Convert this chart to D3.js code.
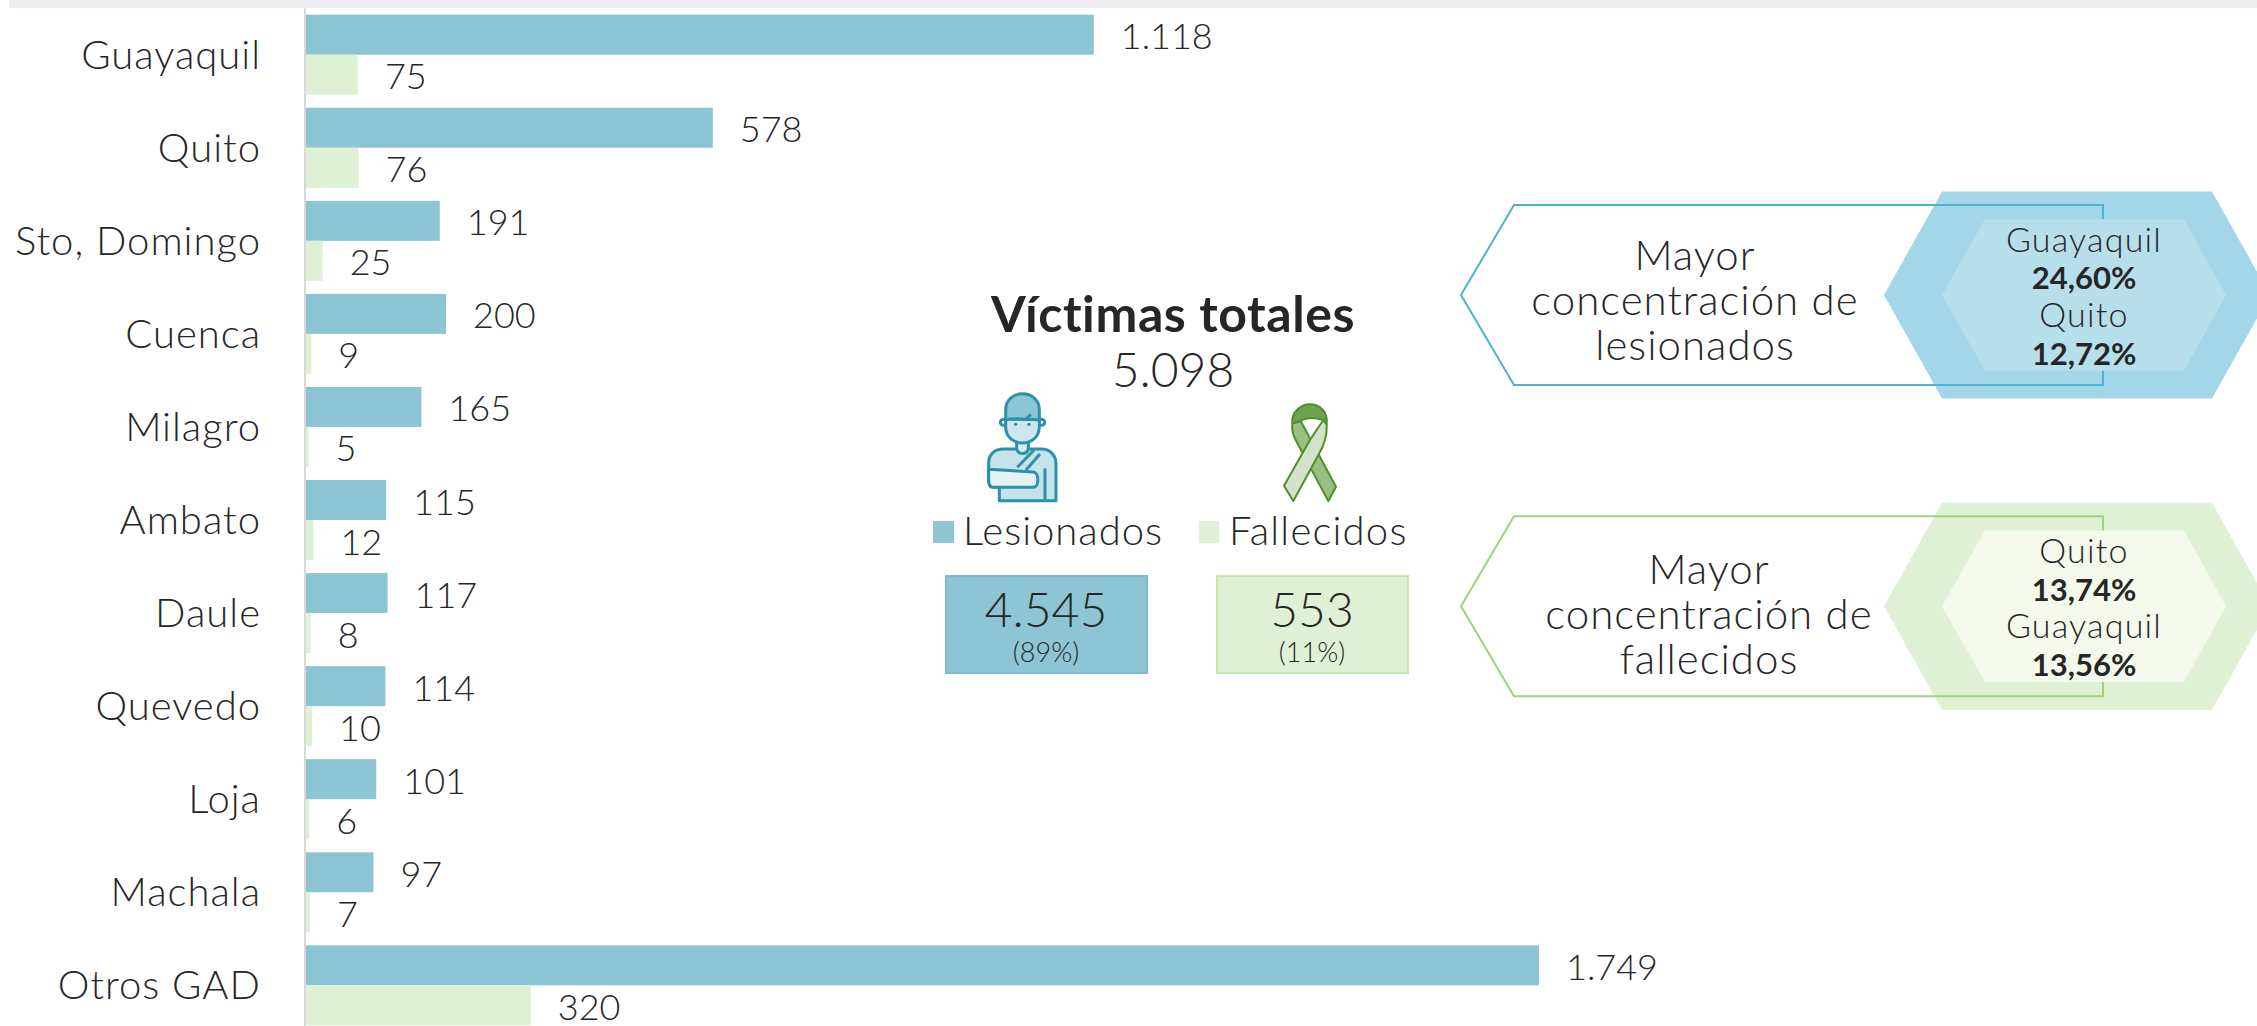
<!doctype html>
<html>
<head>
	<meta charset="utf-8">
	<title>Victimas por GAD</title>
	<script src="https://d3js.org/d3.v7.min.js"></script>
	<style>
		html, body { margin: 0; padding: 0; background: #fff; }
		svg { display: block; }
		text { font-family: Lato, sans-serif; font-weight: 300; fill: #262626; }
	</style>
</head>
<body>
<script>

const categories = ["Guayaquil", "Quito", "Sto, Domingo", "Cuenca", "Milagro", "Ambato", "Daule", "Quevedo", "Loja", "Machala", "Otros GAD"];
const lesionados = [1118, 578, 191, 200, 165, 115, 117, 114, 101, 97, 1749];
const fallecidos = [75, 76, 25, 9, 5, 12, 8, 10, 6, 7, 320];
const seriesNames = ["Lesionados", "Fallecidos"];
const totalVictimas = 5098;
const totalLesionados = 4545;
const totalFallecidos = 553;
const pctLesionados = "(89%)";
const pctFallecidos = "(11%)";
const topLesionados = ["Guayaquil", "24,60%", "Quito", "12,72%"];
const topFallecidos = ["Quito", "13,74%", "Guayaquil", "13,56%"];

const w = 2257;
const h = 1026;
const blue = "#8dc5d4";
const green = "#dff1d5";

const svg = d3.select("body").append("svg")
	.attr("width", w)
	.attr("height", h);

// thousands with a dot
const fmt = d3.formatLocale({decimal: ",", thousands: ".", grouping: [3], currency: ["$", ""]}).format(",d");

svg.append("rect").attr("x", 9).attr("y", 0).attr("width", w - 9).attr("height", 8).attr("fill", "#eeeef3");

const x = d3.scaleLinear().domain([0, 1749]).range([305, 1539]);
const y = d3.scaleBand().domain(categories).range([8.19, 1031.85]).paddingInner(0.14).paddingOuter(0.07);
const ySub = d3.scaleBand().domain(seriesNames).range([0, y.bandwidth()]);

const rows = categories.map(function(c, i) {
	return {cat: c, vals: [
		{s: "Lesionados", v: lesionados[i]},
		{s: "Fallecidos", v: fallecidos[i]}
	]};
});

const row = svg.selectAll("g.row")
	.data(rows)
	.enter().append("g")
	.attr("class", "row")
	.attr("transform", function(d) { return "translate(0," + y(d.cat) + ")"; });

const item = row.selectAll("g")
	.data(function(d) { return d.vals; })
	.enter().append("g");

item.append("rect")
	.attr("x", x(0))
	.attr("y", function(d) { return ySub(d.s); })
	.attr("width", function(d) { return x(d.v) - x(0); })
	.attr("height", ySub.bandwidth())
	.attr("fill", function(d) { return d.s == "Lesionados" ? blue : green; });

item.append("text")
	.attr("x", function(d) { return x(d.v) + 27; })
	.attr("y", function(d) { return ySub(d.s) + 34.5; })
	.attr("font-size", 36)
	.text(function(d) { return fmt(d.v); });

const axis = svg.append("g")
	.attr("transform", "translate(305,0)")
	.call(d3.axisLeft(y).tickSize(0).tickPadding(44));
axis.select(".domain").remove();
axis.selectAll("text")
	.attr("font-size", 40)
	.attr("dy", 14)
	.style("letter-spacing", "1px")
	.style("font-family", "Lato")
	.style("font-weight", 300);
svg.append("line").attr("x1", 305).attr("x2", 305).attr("y1", 8).attr("y2", h)
	.attr("stroke", "#d9d9d9").attr("stroke-width", 2);

// centre block
function label(sel, txt, px, py, size, bold, anchor, spacing) {
	return sel.append("text")
		.attr("x", px).attr("y", py)
		.attr("font-size", size)
		.attr("text-anchor", anchor || "middle")
		.style("font-weight", bold ? 700 : 300)
		.style("letter-spacing", (spacing || 0) + "px")
		.text(txt);
}
label(svg, "Víctimas totales", 1173, 332, 50, true, "middle", 0.6);
label(svg, fmt(totalVictimas), 1173, 387, 48);

svg.append("rect").attr("x", 933).attr("y", 521).attr("width", 21).attr("height", 22).attr("fill", blue);
svg.append("rect").attr("x", 1199).attr("y", 521).attr("width", 20).attr("height", 22).attr("fill", green);
label(svg, seriesNames[0], 963, 545, 40, false, "start", 1);
label(svg, seriesNames[1], 1229, 545, 40, false, "start", 1.2);

svg.append("rect").attr("x", 946).attr("y", 576).attr("width", 201).attr("height", 97)
	.attr("fill", blue).attr("stroke", "#7ebacb").attr("stroke-width", 2);
svg.append("rect").attr("x", 1217).attr("y", 576).attr("width", 191).attr("height", 97)
	.attr("fill", green).attr("stroke", "#c4e5ac").attr("stroke-width", 2);
label(svg, fmt(totalLesionados), 1046, 627, 48);
label(svg, pctLesionados, 1046, 662, 27);
label(svg, fmt(totalFallecidos), 1312, 627, 48);
label(svg, pctFallecidos, 1312, 662, 27);

// callouts at the right
function callout(cy, lineColor, outerColor, innerColor, lines, textX, textDy, vals) {
	const g = svg.append("g");
	g.append("polygon")
		.attr("points", [[1884, cy], [1942, cy - 103.6], [2212, cy - 103.6], [2270, cy], [2212, cy + 103.6], [1942, cy + 103.6]].join(" "))
		.attr("fill", outerColor);
	g.append("polygon")
		.attr("points", [[1461, cy], [1514, cy - 90], [2103, cy - 90], [2103, cy + 90], [1514, cy + 90]].join(" "))
		.attr("fill", "none").attr("stroke", lineColor).attr("stroke-width", 2);
	g.append("polygon")
		.attr("points", [[1942, cy], [1985, cy - 75.8], [2184, cy - 75.8], [2226, cy], [2184, cy + 75.8], [1985, cy + 75.8]].join(" "))
		.attr("fill", innerColor);
	lines.forEach(function(t, i) { label(g, t, textX, cy + textDy + i * 45, 42, false, "middle", 1); });
	vals.forEach(function(t, i) {
		const bold = i % 2 == 1;
		label(g, t, 2084, cy - 43.5 + i * 37.8, bold ? 31 : 34, bold, "middle", bold ? 0 : 1.2);
	});
}
callout(295, "#4eb3d3", "#a3d6e6", "#b6dfeb", ["Mayor", "concentración de", "lesionados"], 1695, -25, topLesionados);
callout(606.3, "#9bd47c", "#dff1d5", "#f4f9ec", ["Mayor", "concentración de", "fallecidos"], 1709, -22, topFallecidos);

// icons, drawn by hand at 3x and scaled down
const person = svg.append("g")
	.attr("transform", "translate(960,380) scale(0.3333)")
	.attr("stroke", "#2a92a9").attr("stroke-width", 9).attr("stroke-linejoin", "round").attr("fill", "none");
person.append("circle").attr("cx", 130).attr("cy", 127).attr("r", 9);
person.append("circle").attr("cx", 245).attr("cy", 127).attr("r", 9);
person.append("path").attr("d", "M118,362 L118,322 L100,322 C90,322 86,312 86,300 L86,250 C86,222 105,207 130,207 L245,207 C272,207 288,228 288,250 L288,362 Z").attr("fill", "#c6e2ea");
person.append("path").attr("d", "M170,185 L170,207 C175,225 200,225 205,207 L205,185").attr("fill", "#dcedf3");
person.append("path").attr("d", "M137,118 L137,140 C137,205 238,205 238,140 L238,118 Z").attr("fill", "#cfe6ee");
person.append("path").attr("d", "M137,120 L137,90 C137,25 238,25 238,90 L238,120 C225,116 205,120 196,118 C180,116 150,116 137,120 Z").attr("fill", blue);
person.append("path").attr("d", "M200,115 L213,103");
person.append("path").attr("d", "M172,262 L222,210 M198,270 L240,222 M255,265 L255,362");
person.append("path").attr("d", "M86,268 L220,276 C238,278 238,322 220,322 L100,322 C90,322 86,312 86,300 Z").attr("fill", "#e6f2f5");
person.append("circle").attr("cx", 167).attr("cy", 133).attr("r", 5).attr("fill", "#2a92a9").attr("stroke", "none");
person.append("circle").attr("cx", 207).attr("cy", 133).attr("r", 5).attr("fill", "#2a92a9").attr("stroke", "none");

const ribbon = svg.append("g")
	.attr("transform", "translate(1260,395) scale(0.3333)")
	.attr("stroke", "#4f8f28").attr("stroke-width", 6).attr("stroke-linejoin", "round");
ribbon.append("path").attr("d", "M97,85 L122,78 L228,275 L205,318 L107,135 C98,118 95,100 97,85 Z").attr("fill", "#9abf83");
ribbon.append("path").attr("d", "M97,85 C92,50 125,28 150,28 C180,28 205,50 200,90 L190,75 C170,68 140,65 122,78 Z").attr("fill", "#6fa14f");
ribbon.append("path").attr("d", "M190,75 L200,90 C202,125 190,155 175,180 L100,318 L72,272 L150,135 Z").attr("fill", "#d2e2cb");

</script>
</body>
</html>
